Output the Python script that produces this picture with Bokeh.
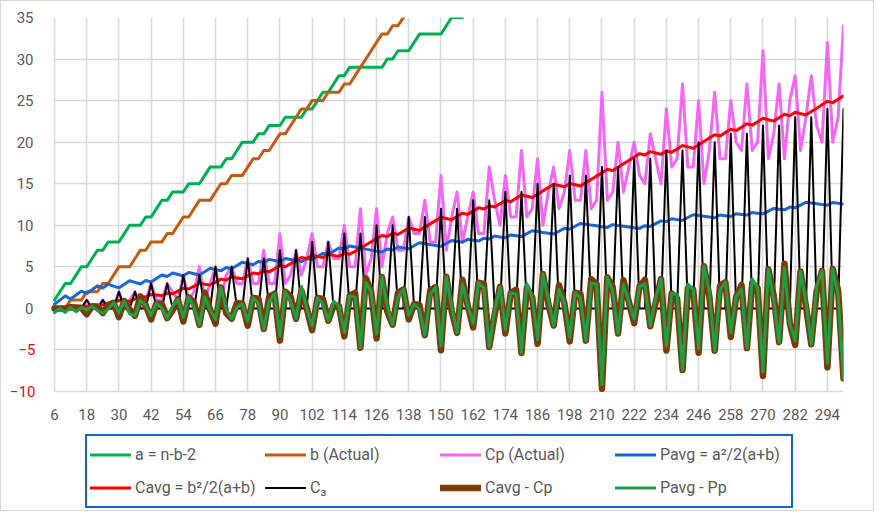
from bokeh.plotting import figure
from bokeh.models import (ColumnDataSource, Range1d, FixedTicker, Legend,
                          LegendItem, LinearAxis)
from bokeh.embed import file_html
from bokeh.resources import INLINE

# even numbers n (categories on the x axis)
n = [6, 8, 10, 12, 14, 16, 18, 20, 22, 24,
     26, 28, 30, 32, 34, 36, 38, 40, 42, 44,
     46, 48, 50, 52, 54, 56, 58, 60, 62, 64,
     66, 68, 70, 72, 74, 76, 78, 80, 82, 84,
     86, 88, 90, 92, 94, 96, 98, 100, 102, 104,
     106, 108, 110, 112, 114, 116, 118, 120, 122, 124,
     126, 128, 130, 132, 134, 136, 138, 140, 142, 144,
     146, 148, 150, 152, 154, 156, 158, 160, 162, 164,
     166, 168, 170, 172, 174, 176, 178, 180, 182, 184,
     186, 188, 190, 192, 194, 196, 198, 200, 202, 204,
     206, 208, 210, 212, 214, 216, 218, 220, 222, 224,
     226, 228, 230, 232, 234, 236, 238, 240, 242, 244,
     246, 248, 250, 252, 254, 256, 258, 260, 262, 264,
     266, 268, 270, 272, 274, 276, 278, 280, 282, 284,
     286, 288, 290, 292, 294, 296, 298, 300]

a_vals = [1, 2, 3, 3, 4, 5, 5, 6, 7, 7,
          8, 8, 8, 9, 10, 10, 10, 11, 11, 12,
          13, 13, 14, 14, 14, 15, 15, 15, 16, 17,
          17, 17, 18, 18, 19, 20, 20, 20, 21, 21,
          22, 22, 22, 23, 23, 23, 23, 24, 24, 25,
          26, 26, 27, 28, 28, 29, 29, 29, 29, 29,
          29, 29, 30, 30, 31, 31, 31, 32, 33, 33,
          33, 33, 33, 34, 35, 35, 35, 36, 36, 36,
          37, 37, 38, 38, 38, 39, 39, 39, 40, 41,
          41, 41, 41, 41, 42, 43, 43, 44, 45, 45,
          45, 45, 45, 45, 46, 46, 46, 46, 46, 46,
          47, 47, 48, 49, 49, 50, 50, 50, 51, 52,
          52, 52, 52, 52, 53, 53, 53, 54, 54, 54,
          55, 55, 55, 56, 57, 57, 57, 58, 58, 59,
          60, 60, 60, 60, 60, 61, 61, 61]

b_vals = [0, 0, 0, 1, 1, 1, 2, 2, 2, 3,
          3, 4, 5, 5, 5, 6, 7, 7, 8, 8,
          8, 9, 9, 10, 11, 11, 12, 13, 13, 13,
          14, 15, 15, 16, 16, 16, 17, 18, 18, 19,
          19, 20, 21, 21, 22, 23, 24, 24, 25, 25,
          25, 26, 26, 26, 27, 27, 28, 29, 30, 31,
          32, 33, 33, 34, 34, 35, 36, 36, 36, 37,
          38, 39, 40, 40, 40, 41, 42, 42, 43, 44,
          44, 45, 45, 46, 47, 47, 48, 49, 49, 49,
          50, 51, 52, 53, 53, 53, 54, 54, 54, 55,
          56, 57, 58, 59, 59, 60, 61, 62, 63, 64,
          64, 65, 65, 65, 66, 66, 67, 68, 68, 68,
          69, 70, 71, 72, 72, 73, 74, 74, 75, 76,
          76, 77, 78, 78, 78, 79, 80, 80, 81, 81,
          81, 82, 83, 84, 85, 85, 86, 87]

cp_vals = [0, 0, 0, 0, 0, 0, 1, 0, 0, 1,
           0, 0, 2, 0, 1, 2, 0, 1, 3, 1,
           1, 3, 2, 1, 4, 1, 2, 5, 1, 3,
           5, 1, 4, 5, 3, 3, 6, 3, 3, 7,
           3, 3, 9, 3, 4, 7, 4, 6, 9, 5,
           5, 8, 6, 6, 10, 5, 5, 12, 4, 6,
           12, 5, 9, 11, 7, 7, 11, 9, 9, 13,
           8, 8, 16, 7, 11, 14, 8, 11, 14, 9,
           9, 17, 13, 10, 16, 11, 11, 19, 11, 12,
           18, 10, 14, 17, 12, 14, 19, 13, 13, 19,
           12, 13, 26, 13, 14, 20, 14, 17, 20, 16,
           15, 21, 18, 15, 24, 17, 18, 27, 17, 17,
           25, 15, 19, 26, 18, 18, 25, 20, 19, 27,
           19, 20, 31, 18, 21, 27, 18, 25, 28, 19,
           23, 28, 22, 20, 32, 20, 23, 34]

pavg_vals = [0.5, 1.0, 1.5, 1.13, 1.6, 2.08, 1.79, 2.25, 2.72, 2.45,
             2.91, 2.67, 2.46, 2.89, 3.33, 3.13, 2.94, 3.36, 3.18, 3.6,
             4.02, 3.84, 4.26, 4.08, 3.92, 4.33, 4.17, 4.02, 4.41, 4.82,
             4.66, 4.52, 4.91, 4.76, 5.16, 5.56, 5.41, 5.26, 5.65, 5.51,
             5.9, 5.76, 5.63, 6.01, 5.88, 5.75, 5.63, 6.0, 5.88, 6.25,
             6.63, 6.5, 6.88, 7.26, 7.13, 7.51, 7.38, 7.25, 7.13, 7.01,
             6.89, 6.78, 7.14, 7.03, 7.39, 7.28, 7.17, 7.53, 7.89, 7.78,
             7.67, 7.56, 7.46, 7.81, 8.17, 8.06, 7.95, 8.31, 8.2, 8.1,
             8.45, 8.35, 8.7, 8.6, 8.49, 8.84, 8.74, 8.64, 8.99, 9.34,
             9.24, 9.14, 9.04, 8.94, 9.28, 9.63, 9.53, 9.88, 10.23, 10.13,
             10.02, 9.93, 9.83, 9.74, 10.08, 9.98, 9.89, 9.8, 9.71, 9.62,
             9.95, 9.86, 10.19, 10.53, 10.44, 10.78, 10.68, 10.59, 10.93, 11.27,
             11.17, 11.08, 10.99, 10.9, 11.24, 11.15, 11.06, 11.39, 11.3, 11.22,
             11.55, 11.46, 11.37, 11.7, 12.03, 11.94, 11.86, 12.19, 12.1, 12.43,
             12.77, 12.68, 12.59, 12.5, 12.41, 12.74, 12.66, 12.57]

cavg_vals = [0.0, 0.0, 0.0, 0.13, 0.1, 0.08, 0.29, 0.25, 0.22, 0.45,
             0.41, 0.67, 0.96, 0.89, 0.83, 1.13, 1.44, 1.36, 1.68, 1.6,
             1.52, 1.84, 1.76, 2.08, 2.42, 2.33, 2.67, 3.02, 2.91, 2.82,
             3.16, 3.52, 3.41, 3.76, 3.66, 3.56, 3.91, 4.26, 4.15, 4.51,
             4.4, 4.76, 5.13, 5.01, 5.38, 5.75, 6.13, 6.0, 6.38, 6.25,
             6.13, 6.5, 6.38, 6.26, 6.63, 6.51, 6.88, 7.25, 7.63, 8.01,
             8.39, 8.78, 8.64, 9.03, 8.89, 9.28, 9.67, 9.53, 9.39, 9.78,
             10.17, 10.56, 10.96, 10.81, 10.67, 11.06, 11.45, 11.31, 11.7, 12.1,
             11.95, 12.35, 12.2, 12.6, 12.99, 12.84, 13.24, 13.64, 13.49, 13.34,
             13.74, 14.14, 14.54, 14.94, 14.78, 14.63, 15.03, 14.88, 14.73, 15.13,
             15.52, 15.93, 16.33, 16.74, 16.58, 16.98, 17.39, 17.8, 18.21, 18.62,
             18.45, 18.86, 18.69, 18.53, 18.94, 18.78, 19.18, 19.59, 19.43, 19.27,
             19.67, 20.08, 20.49, 20.9, 20.74, 21.15, 21.56, 21.39, 21.8, 22.22,
             22.05, 22.46, 22.87, 22.7, 22.53, 22.94, 23.36, 23.19, 23.6, 23.43,
             23.27, 23.68, 24.09, 24.5, 24.91, 24.74, 25.16, 25.57]

c3_vals = [0, 0, 0, 0, 0, 0, 1, 0, 0, 1,
           0, 0, 2, 0, 0, 2, 0, 0, 3, 0,
           0, 3, 0, 0, 4, 0, 0, 4, 0, 0,
           5, 0, 0, 5, 0, 0, 6, 0, 0, 6,
           0, 0, 7, 0, 0, 7, 0, 0, 8, 0,
           0, 8, 0, 0, 9, 0, 0, 9, 0, 0,
           10, 0, 0, 10, 0, 0, 11, 0, 0, 11,
           0, 0, 12, 0, 0, 12, 0, 0, 13, 0,
           0, 13, 0, 0, 14, 0, 0, 14, 0, 0,
           15, 0, 0, 15, 0, 0, 16, 0, 0, 16,
           0, 0, 17, 0, 0, 17, 0, 0, 18, 0,
           0, 18, 0, 0, 19, 0, 0, 19, 0, 0,
           20, 0, 0, 20, 0, 0, 21, 0, 0, 21,
           0, 0, 22, 0, 0, 22, 0, 0, 23, 0,
           0, 23, 0, 0, 24, 0, 0, 24]

cavg_minus_cp = [0.0, 0.0, 0.0, 0.13, 0.1, 0.08, -0.71, 0.25, 0.22, -0.55,
                 0.41, 0.67, -1.04, 0.89, -0.17, -0.88, 1.44, 0.36, -1.32, 0.6,
                 0.52, -1.16, -0.24, 1.08, -1.58, 1.33, 0.67, -1.98, 1.91, -0.18,
                 -1.84, 2.52, -0.59, -1.24, 0.66, 0.56, -2.09, 1.26, 1.15, -2.49,
                 1.4, 1.76, -3.87, 2.01, 1.38, -1.25, 2.13, 0.0, -2.62, 1.25,
                 1.13, -1.5, 0.38, 0.26, -3.37, 1.51, 1.88, -4.75, 3.63, 2.01,
                 -3.61, 3.78, -0.36, -1.97, 1.89, 2.28, -1.33, 0.53, 0.39, -3.22,
                 2.17, 2.56, -5.04, 3.81, -0.33, -2.94, 3.45, 0.31, -2.3, 3.1,
                 2.95, -4.65, -0.8, 2.6, -3.01, 1.84, 2.24, -5.36, 2.49, 1.34,
                 -4.26, 4.14, 0.54, -2.06, 2.78, 0.63, -3.97, 1.88, 1.73, -3.88,
                 3.52, 2.93, -9.67, 3.74, 2.58, -3.02, 3.39, 0.8, -1.79, 2.62,
                 3.45, -2.14, 0.69, 3.53, -5.06, 1.78, 1.18, -7.41, 2.43, 2.27,
                 -5.33, 5.08, 1.49, -5.1, 2.74, 3.15, -3.44, 1.39, 2.8, -4.78,
                 3.05, 2.46, -8.13, 4.7, 1.53, -4.06, 5.36, -1.81, -4.4, 4.43,
                 0.27, -4.32, 2.09, 4.5, -7.09, 4.74, 2.16, -8.43]

pavg_minus_pp = [-0.5, 0.0, -0.5, 0.13, -0.4, 0.08, -0.21, 0.25, -0.28, -0.55,
                 -0.09, 0.67, -0.54, 0.89, -0.67, -0.88, 0.94, 0.36, -0.82, 0.6,
                 0.02, -1.16, 0.26, 1.08, -1.08, 1.33, 0.17, -1.98, 1.41, -0.18,
                 -1.34, 2.52, -0.09, -1.24, 0.16, 0.56, -1.59, 1.26, 0.65, -2.49,
                 0.9, 1.76, -3.37, 2.01, 0.88, -1.25, 2.63, 0.0, -2.12, 1.25,
                 0.63, -1.5, 0.88, 0.26, -2.87, 1.51, 1.38, -4.75, 3.13, 2.01,
                 -3.11, 3.78, 0.14, -1.97, 1.39, 2.28, -0.83, 0.53, -0.11, -3.22,
                 1.67, 2.56, -4.54, 3.81, 0.17, -2.94, 2.95, 0.31, -1.8, 3.1,
                 2.45, -4.65, -0.3, 2.6, -2.51, 1.84, 1.74, -5.36, 2.99, 1.34,
                 -3.76, 4.14, 1.04, -2.06, 2.28, 0.63, -3.47, 1.88, 1.23, -3.88,
                 3.02, 2.93, -9.17, 3.74, 2.08, -3.02, 2.89, 0.8, -1.29, 2.62,
                 2.95, -2.14, 1.19, 3.53, -4.56, 1.78, 1.68, -7.41, 2.93, 2.27,
                 -4.83, 5.08, 1.99, -5.1, 2.24, 3.15, -2.94, 1.39, 2.3, -4.78,
                 3.55, 2.46, -7.63, 4.7, 1.03, -4.06, 4.86, -1.81, -3.9, 4.43,
                 0.77, -4.32, 2.59, 4.5, -6.59, 4.74, 1.66, -8.43]

x_ticks = [6, 18, 30, 42, 54, 66, 78, 90, 102, 114, 126, 138, 150,
           162, 174, 186, 198, 210, 222, 234, 246, 258, 270, 282, 294]
y_ticks = [0, 5, 10, 15, 20, 25, 30, 35]
y_neg_ticks = [-10, -5]

series_names = ["a = n-b-2", "b (Actual)", "Cp (Actual)", "Pavg = a\u00b2/2(a+b)",
                "Cavg = b\u00b2/2(a+b)", "C\u2083", "Cavg - Cp", "Pavg - Pp"]

src = ColumnDataSource(data=dict(
    n=n, a=a_vals, b=b_vals, cp=cp_vals, pavg=pavg_vals, cavg=cavg_vals,
    c3=c3_vals, cc=cavg_minus_cp, pp=pavg_minus_pp))

FONT = "Roboto"
GRAY = "#595959"
GRID = "#d9d9d9"

# The frame reaches the bottom of the canvas so that the legend below the
# value area is not clipped; the value area itself spans n = 6..300, -10..35.
p = figure(width=874, height=511, output_backend="svg", toolbar_location=None,
           x_range=Range1d(0.41, 300), y_range=Range1d(-24.56, 35),
           min_border_left=38, min_border_right=32, min_border_top=16,
           min_border_bottom=0, background_fill_color="white",
           border_fill_color="white")
p.outline_line_color = None
p.styles = {"border": "1px solid #d9d9d9"}

# category axis, drawn on the -10 line
p.xaxis.ticker = FixedTicker(ticks=x_ticks)
p.xaxis.fixed_location = -10
p.xaxis.axis_line_color = None
p.xaxis.major_label_standoff = 18

# value axis: non-negative labels in grey, negative labels in red (outer axis)
p.yaxis.ticker = FixedTicker(ticks=y_ticks)
p.yaxis.bounds = (-10, 35)
p.yaxis.axis_line_color = None
p.yaxis.major_label_standoff = 6
neg_axis = LinearAxis(ticker=FixedTicker(ticks=y_neg_ticks), bounds=(-10, -5))
neg_axis.axis_line_color = None
neg_axis.major_label_standoff = -22
p.add_layout(neg_axis, "left")

for ax in (p.xaxis[0], p.yaxis[0], neg_axis):
    ax.major_tick_line_color = None
    ax.minor_tick_line_color = None
    ax.major_tick_out = 0
    ax.major_tick_in = 0
    ax.major_label_text_font = FONT
    ax.major_label_text_font_size = "15px"
    ax.major_label_text_color = GRAY
neg_axis.major_label_text_color = "#ff0000"

p.ygrid.ticker = FixedTicker(ticks=y_neg_ticks + y_ticks)
for g in (p.xgrid[0], p.ygrid[0]):
    g.grid_line_color = GRID
    g.grid_line_width = 1.6
p.xgrid[0].cross_bounds = (-10, 35)
p.ygrid[0].cross_bounds = (6, 300)

styles = [
    ("a", "#00b050", 3),
    ("b", "#c55a11", 3),
    ("cp", "#f566f5", 3),
    ("pavg", "#1a66d9", 3),
    ("cavg", "#ff0000", 3),
    ("c3", "#000000", 2),
    ("cc", "#7a3d0a", 6.5),
    ("pp", "#1f9e45", 3),
]
items = []
for (col, color, w), name in zip(styles, series_names):
    r = p.line("n", col, source=src, line_color=color, line_width=w,
               line_join="round", line_cap="round")
    items.append(LegendItem(label=name, renderers=[r]))

legend = Legend(items=items, location=(46, 4), orientation="horizontal",
                ncols=4, nrows=2, glyph_width=41, glyph_height=31,
                label_standoff=4, label_width=128, spacing=2, padding=3,
                margin=0, border_line_color="#1565c8", border_line_width=2,
                border_line_alpha=1.0,
                background_fill_color="white", background_fill_alpha=1,
                label_text_font=FONT, label_text_font_size="16px",
                label_text_color=GRAY)
p.add_layout(legend)

open("out.html", "w").write(file_html(p, INLINE))
